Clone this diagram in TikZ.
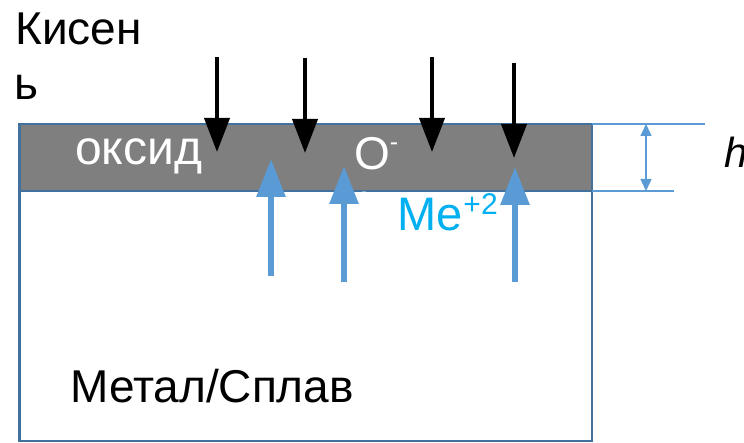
\documentclass[tikz,border=0pt]{standalone}
\usepackage{fontspec}
\setmainfont{Liberation Sans}
\usetikzlibrary{arrows.meta}
\definecolor{edgeblue}{HTML}{41719C}
\definecolor{oxgray}{HTML}{7F7F7F}
\definecolor{arrblue}{HTML}{5B9BD5}
\definecolor{mecol}{HTML}{00B0F0}
\tikzset{
  oarrow/.style={line width=4pt, -{Triangle[width=25pt,length=34pt]}},
  barrow/.style={arrblue, line width=6pt, -{Triangle[width=28pt,length=38pt]}},
  dimline/.style={arrblue, line width=1.5pt},
  dimarrow/.style={arrblue, line width=1.5pt, {Triangle[width=11pt,length=12pt]}-{Triangle[width=11pt,length=12pt]}},
  lbl/.style={inner sep=0pt, anchor=base west},
}
\begin{document}
\begin{tikzpicture}[x=1pt,y=-1pt]
\useasboundingbox (0,0) rectangle (744,443);
% metal / alloy body and oxide layer
\draw[edgeblue, line width=2.5pt, fill=white] (19.5,124) rectangle (592,441);
\draw[edgeblue, line width=2.5pt, fill=oxgray] (19.5,124) rectangle (592,191);
% dimension h
\draw[dimline] (592,124) -- (705,124);
\draw[dimline] (592,191) -- (674,191);
\coordinate (htop) at (646,124);
\coordinate (hbot) at (646,191);
\draw[dimarrow] (htop) -- (hbot);
% texts
\node[lbl, font=\fontsize{46}{50}\selectfont] (kis) at (15,45) {Кисен};
\node[lbl, font=\fontsize{46}{50}\selectfont] (soft) at (14,100) {ь};
\node[lbl, white, font=\fontsize{48}{52}\selectfont] (oks) at (75,165) {оксид};
\node[lbl, white, font=\fontsize{46}{50}\selectfont] (ox) at (354,170) {O\raisebox{0.42em}{\fontsize{25}{27}\selectfont -}};
\node[lbl, white, font=\fontsize{25}{27}\selectfont] (two) at (357,210) {2};
\node[lbl, mecol, font=\fontsize{47}{51}\selectfont] (me) at (397,231) {Me\hspace{1pt}\raisebox{16pt}{\fontsize{30}{32}\selectfont +2}};
\node[lbl, font=\fontsize{46}{50}\selectfont] (met) at (70,402) {Метал/Сплав};
\node[lbl, font=\itshape\fontsize{42}{46}\selectfont] (h) at (724,168) {h};
% oxygen arrows
\coordinate (o1s) at (217,57);  \coordinate (o1e) at (217,152);
\coordinate (o2s) at (305,58);  \coordinate (o2e) at (305,153);
\coordinate (o3s) at (432,57);  \coordinate (o3e) at (432,152);
\coordinate (o4s) at (514,63);  \coordinate (o4e) at (514,158);
\foreach \i in {1,2,3,4} \draw[oarrow] (o\i s) -- (o\i e);
% metal ion arrows
\coordinate (m1s) at (271,276); \coordinate (m1e) at (271,159);
\coordinate (m2s) at (344,282); \coordinate (m2e) at (344,166);
\coordinate (m3s) at (515,282); \coordinate (m3e) at (515,167);
\foreach \i in {1,2,3} \draw[barrow] (m\i s) -- (m\i e);
\end{tikzpicture}
\end{document}
